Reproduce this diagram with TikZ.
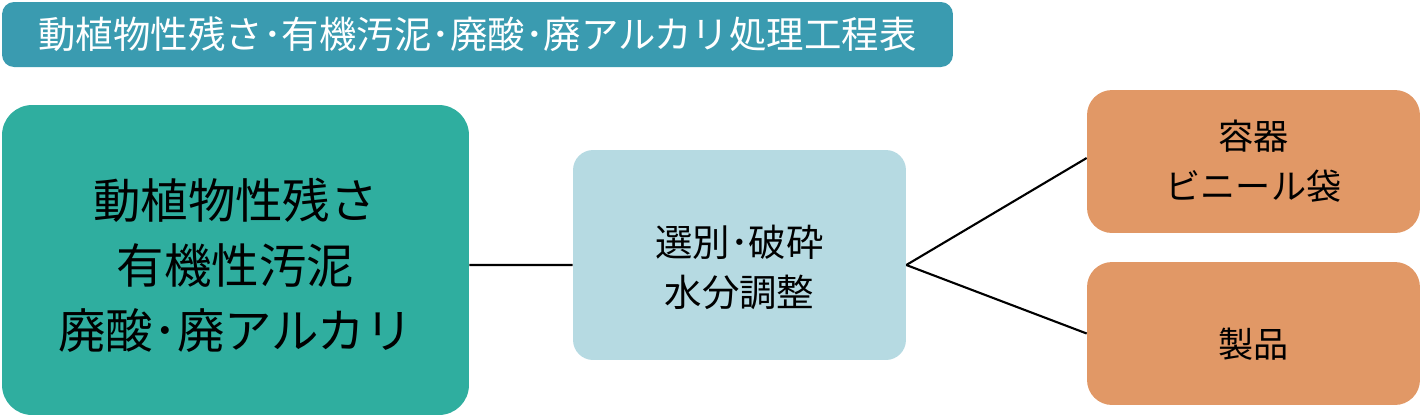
\documentclass[tikz,border=0pt]{standalone}
\usepackage{fontspec}
\setmainfont{Noto Sans CJK JP}
\usetikzlibrary{positioning}

\definecolor{titleblue}{HTML}{3A9BB0}
\definecolor{inputgreen}{HTML}{2FAE9F}
\definecolor{stepblue}{HTML}{B6DAE2}
\definecolor{outorange}{HTML}{E19866}

\tikzset{
  titlebox/.style={fill=titleblue, rounded corners=0.24cm, minimum width=19.02cm, minimum height=1.3cm, text=white, font=\fontsize{21.3}{24}\selectfont},
  inbox/.style={fill=inputgreen, rounded corners=0.6cm, minimum width=9.34cm, minimum height=6.2cm, align=center, font=\fontsize{27}{37}\selectfont},
  stepbox/.style={fill=stepblue, rounded corners=0.4cm, minimum width=6.66cm, minimum height=4.2cm, align=center, font=\fontsize{21.3}{28}\selectfont},
  outbox/.style={fill=outorange, rounded corners=0.5cm, minimum width=6.66cm, minimum height=2.86cm, align=center, font=\fontsize{20}{28.5}\selectfont},
  link/.style={line width=1.2pt}
}

\begin{document}
\begin{tikzpicture}[x=0.02cm, y=-0.02cm]
 \useasboundingbox (0,0) rectangle (1421,417);
 \draw (477.5,34.5) node[titlebox] (title) {動植物性残さ･有機汚泥･廃酸･廃アルカリ処理工程表};
 \draw (235.5,260) node[inbox] (waste) {\rule{0pt}{29pt}動植物性残さ\\有機性汚泥\\廃酸･廃アルカリ};
 \draw (739.5,255) node[stepbox] (sort) {\rule{0pt}{32pt}選別･破砕\\水分調整};
 \draw (1253.5,161.5) node[outbox] (container) {容器\\ビニール袋};
 \draw (1253.5,333.5) node[outbox] (product) {\rule{0pt}{29pt}製品};

 \draw[link] ([yshift=-0.1cm]waste.east) -- ([yshift=-0.2cm]sort.west);
 \draw[link] ([yshift=-0.2cm]sort.east) -- ([yshift=0.07cm]container.west);
 \draw[link] ([yshift=-0.2cm]sort.east) -- (product.west);
\end{tikzpicture}
\end{document}
